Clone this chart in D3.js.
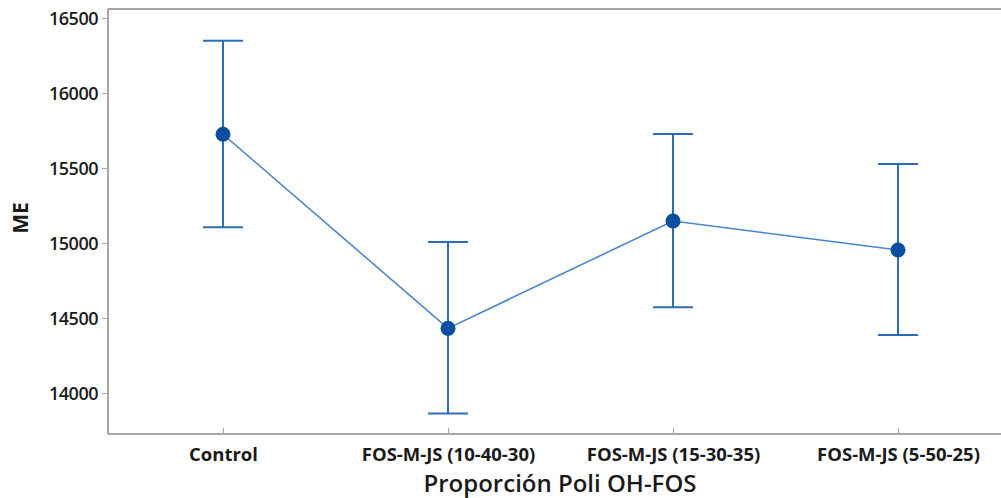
<!DOCTYPE html>
<html>
<head>
<meta charset="utf-8">
<script src="https://cdn.jsdelivr.net/npm/d3@7"></script>
<style>
  body { margin: 0; background: #fff; }
  svg { display: block; }
  svg text { font-family: "Open Sans", "DejaVu Sans", sans-serif; }
  .axis path, .axis line { stroke: #a6a6a6; }
  .axis text { fill: #1a1a1a; font-weight: 600; }
</style>
</head>
<body>
<script>
(function(){

  //chart data
  var categories = ["Control", "FOS-M-JS (10-40-30)", "FOS-M-JS (15-30-35)", "FOS-M-JS (5-50-25)"];
  var means = [15725, 14431, 15147, 14953];
  var upper = [16349, 15007, 15727, 15527];
  var lower = [15105, 13864, 14571, 14387];
  var yTicks = [14000, 14500, 15000, 15500, 16000, 16500];

  var width = 1001, height = 498;

  var svg = d3.select("body").append("svg")
      .attr("width", width)
      .attr("height", height);

  //plot frame
  var left = 108, top = 9, bottom = 434, right = 1001;

  var yScale = d3.scaleLinear()
      .domain([14000, 16500])
      .range([393, 18]);

  var xScale = d3.scalePoint()
      .domain(categories)
      .range([223, 898]);

  //top frame line
  svg.append("line")
      .attr("x1", left).attr("x2", right)
      .attr("y1", top).attr("y2", top)
      .attr("stroke", "#a6a6a6")
      .attr("stroke-width", 2);

  //y axis
  var yAxis = svg.append("g")
      .attr("class", "axis")
      .attr("transform", "translate(" + left + ",0)")
      .call(d3.axisLeft(yScale).tickValues(yTicks).tickFormat(d3.format("d"))
          .tickSize(6).tickPadding(4).tickSizeOuter(0));
  yAxis.attr("font-family", null);
  yAxis.select(".domain").attr("d", "M0," + top + "V" + bottom).attr("stroke-width", 2);
  yAxis.selectAll("text").style("font-size", "18px").attr("dy", "0.34em").attr("letter-spacing", "-0.5px");

  //x axis
  var xAxis = svg.append("g")
      .attr("class", "axis")
      .attr("transform", "translate(0," + bottom + ")")
      .call(d3.axisBottom(xScale).tickSize(6).tickSizeOuter(0));
  xAxis.attr("font-family", null);
  xAxis.select(".domain").attr("d", "M" + left + ",0H" + right).attr("stroke-width", 2);
  xAxis.selectAll(".tick line").attr("y1", 0).attr("y2", -6);
  xAxis.selectAll("text")
      .style("font-size", "18.5px")
      .style("font-weight", "700")
      .attr("y", 27)
      .attr("dy", null);

  //axis titles
  svg.append("text")
      .attr("transform", "translate(28,218) rotate(-90)")
      .attr("text-anchor", "middle")
      .style("font-size", "21px")
      .style("font-weight", "700")
      .attr("fill", "#1a1a1a")
      .text("ME");

  svg.append("text")
      .attr("x", 560)
      .attr("y", 492)
      .attr("text-anchor", "middle")
      .style("font-size", "24px")
      .style("font-weight", "600")
      .attr("fill", "#1a1a1a")
      .text("Proporción Poli OH-FOS");

  //connecting line
  var line = d3.line()
      .x(function(d, i){ return xScale(categories[i]); })
      .y(function(d){ return yScale(d); });

  svg.append("path")
      .datum(means)
      .attr("d", line)
      .attr("fill", "none")
      .attr("stroke", "#4a86cc")
      .attr("stroke-width", 1.6);

  //error bars
  var bars = svg.selectAll(".err")
      .data(categories)
      .enter()
      .append("g")
      .attr("class", "err")
      .attr("stroke", "#2d6cb8")
      .attr("stroke-width", 2);

  bars.append("line")
      .attr("x1", function(d){ return xScale(d); })
      .attr("x2", function(d){ return xScale(d); })
      .attr("y1", function(d, i){ return yScale(upper[i]); })
      .attr("y2", function(d, i){ return yScale(lower[i]); });

  bars.append("line")
      .attr("x1", function(d){ return xScale(d) - 20; })
      .attr("x2", function(d){ return xScale(d) + 20; })
      .attr("y1", function(d, i){ return yScale(upper[i]); })
      .attr("y2", function(d, i){ return yScale(upper[i]); });

  bars.append("line")
      .attr("x1", function(d){ return xScale(d) - 20; })
      .attr("x2", function(d){ return xScale(d) + 20; })
      .attr("y1", function(d, i){ return yScale(lower[i]); })
      .attr("y2", function(d, i){ return yScale(lower[i]); });

  //mean points
  svg.selectAll(".pt")
      .data(means)
      .enter()
      .append("circle")
      .attr("class", "pt")
      .attr("cx", function(d, i){ return xScale(categories[i]); })
      .attr("cy", function(d){ return yScale(d); })
      .attr("r", 7.5)
      .attr("fill", "#0b4fa0");

})();
</script>
</body>
</html>
